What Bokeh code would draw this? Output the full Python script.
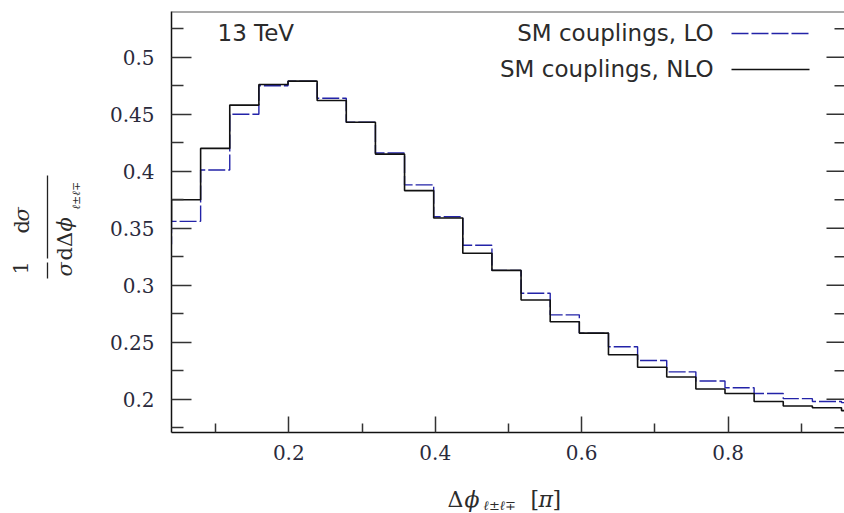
import math
from bokeh.plotting import figure
from bokeh.models import Label, Arrow, FixedTicker, Range1d
from bokeh.layouts import row, column
from bokeh.core.properties import value
from bokeh.embed import file_html
from bokeh.resources import INLINE

# ---------------- data ----------------
bin_width = 0.125 / math.pi          # bins of 0.125 rad, axis in units of pi
n_bins = 25
edges = [k * bin_width for k in range(n_bins + 1)]

lo_values = [0.336, 0.356, 0.401, 0.450, 0.475, 0.479, 0.464, 0.443, 0.416, 0.388,
             0.360, 0.335, 0.313, 0.293, 0.274, 0.258, 0.246, 0.234, 0.224, 0.216,
             0.210, 0.205, 0.2005, 0.198, 0.197]
nlo_values = [0.356, 0.375, 0.420, 0.458, 0.476, 0.479, 0.462, 0.443, 0.415, 0.383,
              0.359, 0.328, 0.313, 0.287, 0.268, 0.258, 0.239, 0.228, 0.2195, 0.209,
              0.205, 0.198, 0.194, 0.1925, 0.190]

x_ticks = [0.2, 0.4, 0.6, 0.8]
x_tick_labels = ["0.2", "0.4", "0.6", "0.8"]
x_minor = [0.1, 0.3, 0.5, 0.7, 0.9]
y_ticks = [0.2, 0.25, 0.3, 0.35, 0.4, 0.45, 0.5]
y_tick_labels = ["0.2", "0.25", "0.3", "0.35", "0.4", "0.45", "0.5"]
y_minor = [0.175, 0.225, 0.275, 0.325, 0.375, 0.425, 0.475, 0.525]

series_names = ["SM couplings, LO", "SM couplings, NLO"]
energy_label = "13 TeV"

# ---------------- layout ----------------
W, H = 844, 513
YW = 100          # width of the y-title strip
XH = 40           # height of the x-title strip
FL, FR, FT, FB = 171, 844, 11, 432      # frame edges in page px
x_start, x_end = 0.0398, 0.959
y_start, y_end = 0.1708, 0.5401

LO_COLOR = "#2323a8"
NLO_COLOR = "#111111"
TXT = "#2b2b2b"
SERIF = "DejaVu Serif"
SANS = "DejaVu Sans"

yrange = Range1d(y_start, y_end)
p = figure(width=W - YW, height=H - XH, output_backend="svg", toolbar_location=None,
           x_range=Range1d(x_start, x_end), y_range=yrange,
           min_border_left=FL - YW, min_border_right=W - FR,
           min_border_top=FT, min_border_bottom=H - XH - FB)
p.outline_line_color = None
p.xgrid.visible = False
p.ygrid.visible = False
p.background_fill_color = "white"
p.border_fill_color = "white"

for ax in (p.xaxis[0], p.yaxis[0]):
    ax.axis_line_color = "#111111"
    ax.axis_line_width = 1.5
    ax.major_tick_line_color = "#333333"
    ax.minor_tick_line_color = "#333333"
    ax.major_tick_line_width = 1.5
    ax.minor_tick_line_width = 1.5
    ax.major_tick_out = 0
    ax.minor_tick_out = 0
    ax.major_label_text_font = SERIF
    ax.major_label_text_font_size = "20px"
    ax.major_label_text_color = "#2a2a3c"

p.xaxis.ticker = FixedTicker(ticks=x_ticks, minor_ticks=x_minor)
p.xaxis.major_label_overrides = dict(zip(x_ticks, x_tick_labels))
p.xaxis.major_tick_in = 16
p.xaxis.minor_tick_in = 9
p.xaxis.major_label_standoff = 12

p.yaxis.ticker = FixedTicker(ticks=y_ticks, minor_ticks=y_minor)
p.yaxis.major_label_overrides = dict(zip(y_ticks, y_tick_labels))
p.yaxis.major_tick_in = 20
p.yaxis.minor_tick_in = 12
p.yaxis.major_label_standoff = 17

# right-side inward ticks (frame edge lies just outside the page)
ppu_x = (FR - FL) / (x_end - x_start)
p.segment(x0=[x_end] * len(y_ticks), y0=y_ticks,
          x1=[x_end - 18 / ppu_x] * len(y_ticks), y1=y_ticks,
          line_color="#333333", line_width=1.5)
p.segment(x0=[x_end] * len(y_minor), y0=y_minor,
          x1=[x_end - 10 / ppu_x] * len(y_minor), y1=y_minor,
          line_color="#333333", line_width=1.5)

# histograms
p.step(x=edges, y=lo_values + [lo_values[-1]], mode="after",
       line_color=LO_COLOR, line_width=1.4, line_dash="17 3")
p.step(x=edges, y=nlo_values + [nlo_values[-1]], mode="after",
       line_color=NLO_COLOR, line_width=1.6)


def sx(x):
    return x - FL


def sy(y):
    return FB - y


def lab(x, y, text, size, font=SANS, align="left"):
    p.add_layout(Label(x=sx(x), y=sy(y), x_units="screen", y_units="screen",
                       text=text, text_font=font, text_font_size=f"{size}px",
                       text_align=align, text_baseline="middle", text_color=TXT))


def hline(x0, y0, x1, y1, color, width, dash="solid"):
    p.add_layout(Arrow(end=None, x_start=sx(x0), y_start=sy(y0), x_end=sx(x1), y_end=sy(y1),
                       start_units="screen", end_units="screen",
                       line_color=color, line_width=width, line_dash=dash))


# top frame line
hline(FL, FT, FR, FT, "#555555", 2)

# energy label and legend (text left, line sample right)
lab(217, 32, energy_label, 23)
lab(713, 32, series_names[0], 23, align="right")
lab(713, 68, series_names[1], 23, align="right")
hline(731, 33, 809, 33, LO_COLOR, 1.4, "17 3")
hline(731, 69, 809, 69, NLO_COLOR, 1.6)

# ---------------- y-axis title strip (shares the chart's y scale) ----------------
py = figure(width=YW, height=H - XH, output_backend="svg", toolbar_location=None,
            x_range=Range1d(0, YW), y_range=yrange,
            x_axis_type=None, y_axis_type=None,
            min_border_left=0, min_border_right=0,
            min_border_top=FT, min_border_bottom=H - XH - FB)
py.grid.visible = False
py.outline_line_color = None
up = math.pi / 2
ppu_y = (FB - FT) / (y_end - y_start)


def yd(ycanvas):
    # page pixel row -> value on the chart's y scale
    return y_end - (ycanvas - FT) / ppu_y


def ytxt(x, y, text, size, style="normal"):
    # rotated text reading upwards; (x, y) = bottom end, vertical middle
    py.text(x=[x], y=[yd(y)], text=[text], angle=up, text_font=value(SERIF),
            text_font_size=value(f"{size}px"), text_font_style=style,
            text_align="left", text_baseline="middle", text_color=TXT)


ytxt(20, 274, "1", 21)
ytxt(64, 276, "σ", 21, "italic")
ytxt(21, 233, "d", 21)
ytxt(21, 221, "σ", 21, "italic")
ytxt(64, 260, "dΔ", 21)
ytxt(64, 231, "ϕ", 21, "italic")
ytxt(76, 209, "ℓ±ℓ∓", 11, "italic")
py.segment(x0=[47, 47], y0=[yd(262), yd(175)], x1=[47, 47], y1=[yd(278), yd(258)],
           line_color="#222222", line_width=1.3)

# ---------------- x-axis title strip ----------------
px = figure(width=W, height=XH, output_backend="svg", toolbar_location=None,
            x_range=Range1d(0, W), y_range=Range1d(H, H - XH),
            x_axis_type=None, y_axis_type=None, min_border=0)
px.grid.visible = False
px.outline_line_color = None


def xtxt(x, y, text, size, style="normal"):
    px.text(x=[x], y=[y], text=[text], text_font=value(SERIF),
            text_font_size=value(f"{size}px"), text_font_style=style,
            text_align="left", text_baseline="middle", text_color=TXT)


xtxt(447, 499, "Δ", 22)
xtxt(464, 499, "ϕ", 22, "italic")
xtxt(483, 505, "ℓ±ℓ∓", 13, "italic")
xtxt(530, 499, "[", 22)
xtxt(538, 499, "π", 22, "italic")
xtxt(552, 499, "]", 22)

layout = column(row(py, p), px)
open("out.html", "w").write(file_html(layout, INLINE))
